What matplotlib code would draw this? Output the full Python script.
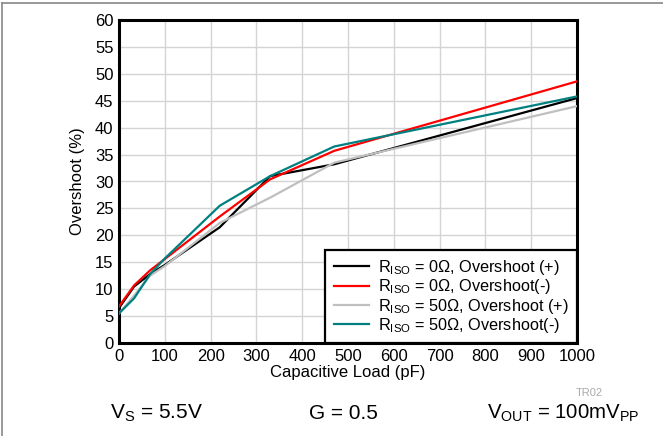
import matplotlib
matplotlib.use("Agg")
import matplotlib.pyplot as plt
from matplotlib.lines import Line2D

plt.rcParams["font.family"] = ["Liberation Sans", "DejaVu Sans"]
plt.rcParams["mathtext.fontset"] = "custom"
plt.rcParams["mathtext.rm"] = "Liberation Sans"

# Capacitive load (pF) and overshoot (%)
load_pf = [0, 33, 68, 100, 220, 330, 470, 1000]
riso0_pos = [6.5, 10.5, 12.8, 14.5, 21.5, 31.0, 33.2, 45.5]
riso0_neg = [6.8, 10.7, 13.5, 15.6, 23.5, 30.4, 35.7, 48.6]
riso50_pos = [5.5, 8.8, 12.5, 14.3, 22.3, 27.0, 33.5, 44.0]
riso50_neg = [5.5, 8.3, 12.8, 15.7, 25.5, 31.0, 36.5, 45.8]

labels = [
    r"$\mathregular{R_{ISO}}$ = 0Ω, Overshoot (+)",
    r"$\mathregular{R_{ISO}}$ = 0Ω, Overshoot(-)",
    r"$\mathregular{R_{ISO}}$ = 50Ω, Overshoot (+)",
    r"$\mathregular{R_{ISO}}$ = 50Ω, Overshoot(-)",
]
colors = ["#000000", "#ff0000", "#bfbfbf", "#008080"]
series = [riso0_pos, riso0_neg, riso50_pos, riso50_neg]

fig = plt.figure(figsize=(6.63, 4.36), dpi=100)
ax = fig.add_axes([119 / 663, 1 - 343 / 436, 458 / 663, 323 / 436])

for ys, c, lab in zip(series, colors, labels):
    ax.plot(load_pf, ys, color=c, lw=1.6, label=lab, zorder=3)

ax.set_xlim(0, 1000)
ax.set_ylim(0, 60)
ax.set_xticks(range(0, 1001, 100))
ax.set_yticks(range(0, 61, 5))
ax.grid(True, color="#d4d4d4", lw=1.0, zorder=0)
ax.tick_params(length=0, labelsize=12, pad=4)
for s in ax.spines.values():
    s.set_linewidth(2.2)
    s.set_color("black")
ax.set_xlabel("Capacitive Load (pF)", fontsize=12, labelpad=1)
ax.set_ylabel("Overshoot (%)", fontsize=12, labelpad=7)

handles = [Line2D([], [], color=c, lw=1.6) for c in colors]
leg = ax.legend(handles, labels, loc="lower right", fontsize=11.7,
                frameon=True, fancybox=False, borderaxespad=0,
                handlelength=2.2, handletextpad=0.55, labelspacing=0.02,
                borderpad=0.5)
leg.get_frame().set_edgecolor("black")
leg.get_frame().set_linewidth(1.6)
leg.get_frame().set_alpha(1)
leg.set_zorder(5)

fig.text(589 / 663, 1 - 393 / 436, "TR02", fontsize=8, color="#aaaaaa",
         ha="center", va="center")
fig.text(157 / 663, 1 - 413 / 436, r"V$_\mathregular{S}$ = 5.5V", fontsize=15,
         ha="center", va="center")
fig.text(343 / 663, 1 - 413 / 436, "G = 0.5", fontsize=15,
         ha="center", va="center")
fig.text(563 / 663, 1 - 413 / 436, r"V$_\mathregular{OUT}$ = 100mV$_\mathregular{PP}$",
         fontsize=14.7, ha="center", va="center")

# figure frame (top and left edges)
fig.add_artist(Line2D([2 / 663, 2 / 663], [0, 1 - 3 / 436], color="#888888", lw=1.2))
fig.add_artist(Line2D([2 / 663, 1], [1 - 3 / 436, 1 - 3 / 436], color="#888888", lw=1.2))

fig.savefig("out.png", dpi=100)
